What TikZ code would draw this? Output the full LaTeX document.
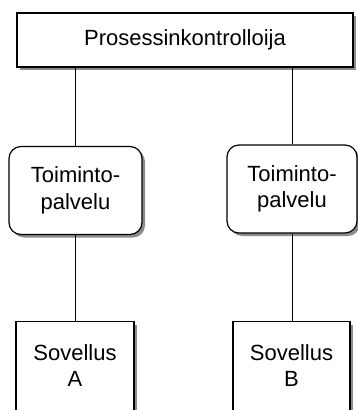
\documentclass[tikz,border=0pt]{standalone}
\usepackage{fontspec}
\setmainfont{Liberation Sans}
\usetikzlibrary{shadows}
\begin{document}
\begin{tikzpicture}[x=1pt, y=-1pt,
  every node/.style={font=\fontsize{22}{26.4}\selectfont},
  boxshade/.style={drop shadow={shadow xshift=3pt, shadow yshift=-3pt, fill=black!45, opacity=1}},
  ctrlbox/.style={draw, line width=1.2pt, fill=white, boxshade, minimum width=336pt, minimum height=54pt, inner sep=0pt},
  servbox/.style={draw, line width=1.2pt, fill=white, boxshade, rounded corners=12pt, align=center, minimum height=88pt, inner sep=0pt},
  appbox/.style={draw, line width=1.2pt, fill=white, boxshade, anchor=north, minimum height=120pt, inner sep=0pt},
  link/.style={line width=1pt}]
  \useasboundingbox (0,0) rectangle (358,410);
  \clip (0,0) rectangle (358,410);

  % process controller
  \node[ctrlbox] (pk) at (185,40) {Prosessinkontrolloija};

  % service boxes
  \node[servbox, minimum width=133pt] (ta) at (75.5,190.5) {Toiminto-\\palvelu};
  \node[servbox, minimum width=130pt] (tb) at (292,189) {Toiminto-\\palvelu};

  % applications
  \node[appbox, minimum width=118pt,
        label={[align=center, yshift=16pt]center:Sovellus\\A}] (sa) at (75,321) {};
  \node[appbox, minimum width=117pt,
        label={[align=center, yshift=16pt]center:Sovellus\\B}] (sb) at (291.5,321) {};

  % connectors
  \draw[link] (ta.north) -- (ta.north |- pk.south);
  \draw[link] (tb.north) -- (tb.north |- pk.south);
  \draw[link] (ta.south) -- (ta.south |- sa.north);
  \draw[link] (tb.south) -- (tb.south |- sb.north);
\end{tikzpicture}
\end{document}
